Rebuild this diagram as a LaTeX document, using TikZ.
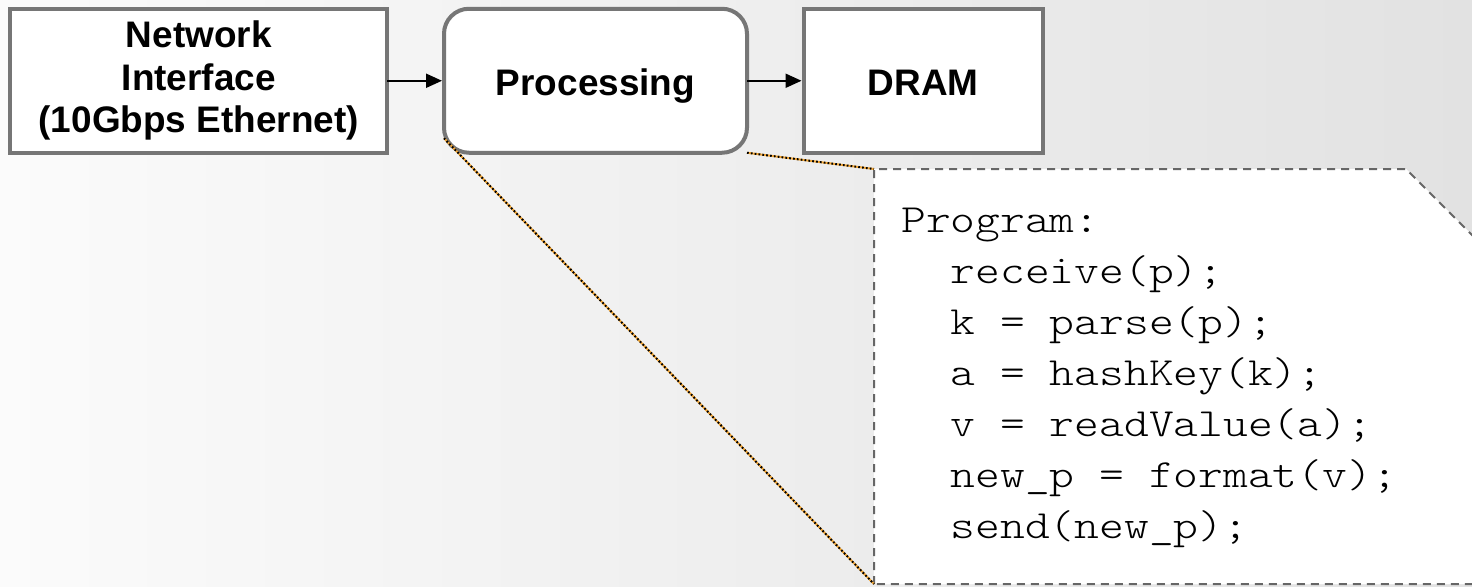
\documentclass[tikz,border=0pt]{standalone}
\usepackage{fontspec}
\setmainfont{Liberation Sans}
\newfontfamily\codefont[FakeStretch=1.18]{lmmonolt10-regular.otf}
\usetikzlibrary{arrows.meta,calc}

\definecolor{boxgray}{HTML}{767676}
\definecolor{dashgray}{HTML}{666666}
\definecolor{linkorange}{HTML}{F5A836}
\definecolor{bgleft}{HTML}{FBFBFB}
\definecolor{bgright}{HTML}{E2E2E2}

\tikzset{
  block/.style={draw=boxgray, line width=3pt, fill=white, outer sep=0pt,
    inner sep=0pt,
    font=\fontsize{27.7pt}{31.9pt}\selectfont\bfseries,
    minimum height=108pt},
  multiline/.style={align=center},
  oneline/.style={text height=22.2pt, text depth=0pt},
  flow/.style={line width=1.5pt, -{Triangle[length=12pt,width=10.5pt]},
    shorten >=1.5pt},
  zoomlink/.style={line width=1.5pt},
}

\begin{document}
\begin{tikzpicture}[x=0.75pt, y=-0.75pt]
  % page and soft grey backdrop
  \useasboundingbox (0,0) rectangle (1472,586);
  \shade[left color=bgleft, right color=bgright] (0,0) rectangle (1472,586);
  \clip (0,0) rectangle (1472,586);

  % pipeline blocks
  \node[block, multiline, minimum width=282.4pt] (nic) at (198.75,80.75)
    {Network\\Interface\\(10Gbps Ethernet)};
  \node[block, oneline, rounded corners=18.75pt, minimum width=227.25pt] (proc)
    at (595.5,80.75) {Processing};
  \node[block, oneline, minimum width=179.6pt] (dram) at (923.25,80.75) {DRAM};

  \draw[flow] (nic.east) -- (proc.west);
  \draw[flow] (proc.east) -- (dram.west);

  % callout with the program run by the processing block
  \coordinate (calltl) at (874,169);
  \coordinate (callbl) at (874,584);
  \draw[draw=dashgray, fill=white, line width=1.5pt,
        dash pattern=on 6pt off 4.5pt]
    (callbl) -- (calltl) -- (1406,169) -- (1500,263) -- (1500,584) -- cycle;

  \node[anchor=base west, inner sep=0pt,
        font=\codefont\fontsize{30pt}{38.3pt}\selectfont] (code) at (901,232)
    {\begin{tabular}[t]{@{}l@{}}
      Program:\\
      \phantom{xx}receive(p);\\
      \phantom{xx}k = parse(p);\\
      \phantom{xx}a = hashKey(k);\\
      \phantom{xx}v = readValue(a);\\
      \phantom{xx}new\_p = format(v);\\
      \phantom{xx}send(new\_p);
    \end{tabular}};

  % zoom lines from the processing block to the callout
  \coordinate (procleft) at ($(proc.south west)+(0,-14.5)$);
  \foreach \a/\b in {procleft/callbl, proc.south east/calltl} {
    \draw[zoomlink, linkorange] (\a) -- (\b);
    \draw[zoomlink, black, dash pattern=on 1.3pt off 1.6pt] (\a) -- (\b);
  }
\end{tikzpicture}
\end{document}
